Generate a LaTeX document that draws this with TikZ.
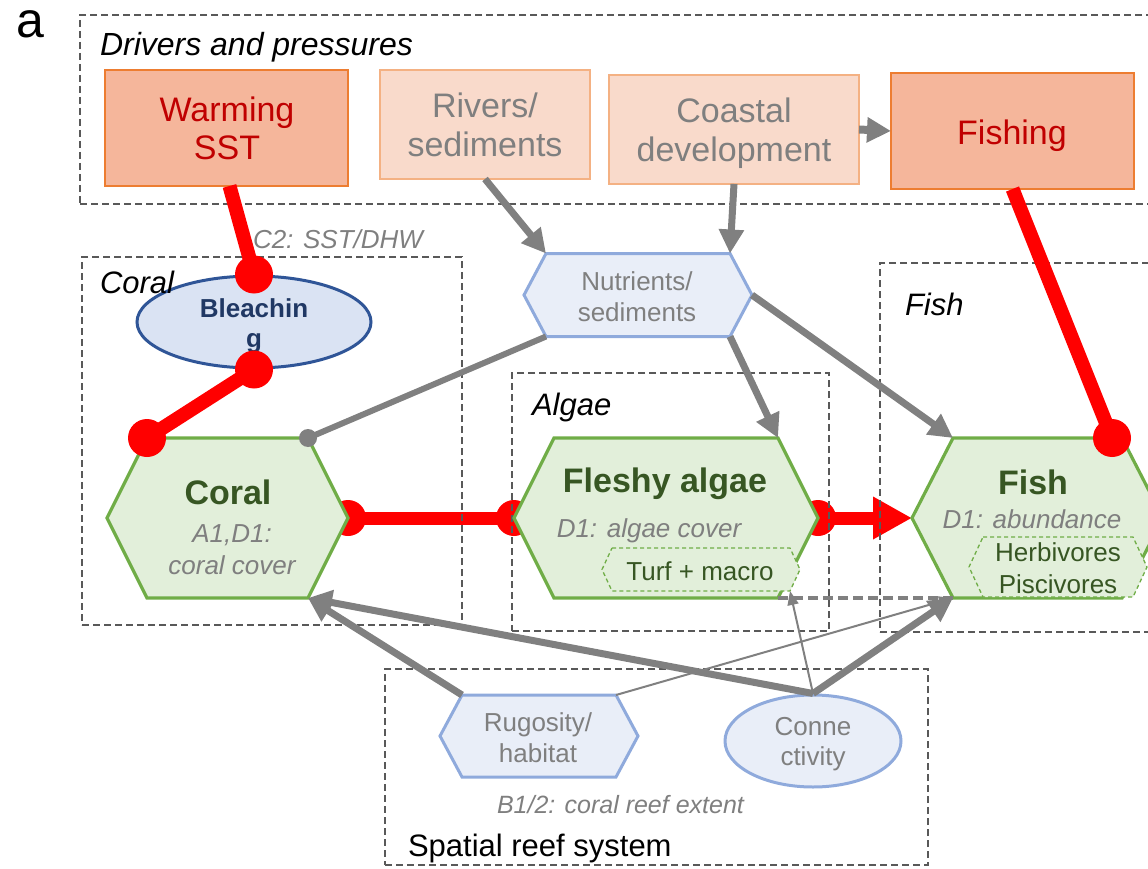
\documentclass[tikz,border=0pt]{standalone}
\usepackage{fontspec}
\setmainfont{Liberation Sans}
\usetikzlibrary{arrows.meta,shapes.geometric}
\definecolor{drvfill}{HTML}{F5B69B}
\definecolor{drvline}{HTML}{ED7D31}
\definecolor{drvtext}{HTML}{C00000}
\definecolor{lightfill}{HTML}{F9DACB}
\definecolor{lightline}{HTML}{F4B183}
\definecolor{txtgray}{HTML}{7F7F7F}
\definecolor{arrgray}{HTML}{808080}
\definecolor{boxgray}{HTML}{595959}
\definecolor{grnfill}{HTML}{E2EFDA}
\definecolor{grnline}{HTML}{70AD47}
\definecolor{grntext}{HTML}{375623}
\definecolor{bluefill}{HTML}{E9EEF8}
\definecolor{blueline}{HTML}{8FAADC}
\definecolor{blchfill}{HTML}{DAE3F3}
\definecolor{blchline}{HTML}{2F5597}
\definecolor{blchtext}{HTML}{203864}
\newcommand{\mysize}[1]{\fontsize{#1pt}{#1pt}\selectfont}
\newcommand{\hexpath}[3]{\path[#3] ([xshift=#2]#1.north west) -- ([xshift=-#2]#1.north east) -- (#1.east) -- ([xshift=-#2]#1.south east) -- ([xshift=#2]#1.south west) -- (#1.west) -- cycle;}
\begin{document}
\begin{tikzpicture}[x=1pt,y=-1pt,
  holder/.style={draw=none,inner sep=0pt,outer sep=0pt},
  txt/.style={inner sep=0pt,outer sep=0pt,anchor=base},
  region/.style={draw=boxgray,dash pattern=on 7pt off 4pt,line width=2.1pt,inner sep=0pt,outer sep=0pt},
  regionlbl/.style={inner sep=0pt,outer sep=0pt,anchor=base west,font=\itshape\mysize{31}},
  hotbox/.style={draw=drvline,fill=drvfill,line width=1.3pt,inner sep=0pt,outer sep=0pt},
  palebox/.style={draw=lightline,fill=lightfill,line width=1.3pt,inner sep=0pt,outer sep=0pt},
  greenhex/.style={draw=grnline,fill=grnfill,line width=3.2pt},
  bluehex/.style={draw=blueline,fill=bluefill,line width=3pt},
  subhex/.style={draw=grnline,fill=grnfill,line width=1.3pt,dash pattern=on 4pt off 3pt},
  hottxt/.style={txt,font=\mysize{34},text=drvtext},
  paletxt/.style={txt,font=\mysize{34},text=txtgray},
  hextitle/.style={txt,font=\bfseries\mysize{34},text=grntext},
  hexsub/.style={txt,font=\itshape\mysize{26},text=txtgray},
  subtxt/.style={txt,font=\mysize{26},text=grntext},
  bluetxt/.style={txt,font=\mysize{26},text=txtgray},
  garrow/.style={draw=arrgray,line width=7pt,-{Triangle[length=24pt,width=24pt]}},
  gline/.style={draw=arrgray,line width=6pt},
  gthin/.style={draw=arrgray,line width=2pt,-{Triangle[length=14pt,width=11pt]}},
  gdash/.style={draw=arrgray,line width=4pt,dash pattern=on 10pt off 5pt},
  redline/.style={draw=red,line width=14pt},
  redarrow/.style={draw=red,line width=13pt,-{Triangle[length=39pt,width=40pt]}}
]
\useasboundingbox (0,0) rectangle (1148,869);
\clip (0,0) rectangle (1148,869);

% invisible holders for hexagons
\node[holder,minimum width=241pt,minimum height=160pt] (coral) at (227.5,518) {};
\node[holder,minimum width=304pt,minimum height=160pt] (algae) at (666,518) {};
\node[holder,minimum width=251pt,minimum height=160pt] (fish) at (1037.5,518) {};
\node[holder,minimum width=228pt,minimum height=83pt] (nutr) at (638,295) {};
\node[holder,minimum width=198pt,minimum height=82pt] (rug) at (539,736) {};
\node[holder,minimum width=198pt,minimum height=43pt] (turf) at (701,569.5) {};
\node[holder,minimum width=178pt,minimum height=60pt] (herb) at (1058,567) {};

% red horizontal connectors (behind)
\draw[redline,line width=13pt] (coral.east) -- (algae.west);
\fill[red] (coral.east) circle[radius=18pt];
\fill[red] (algae.west) circle[radius=18pt];
\draw[redarrow] (algae.east) -- (fish.west);
\fill[red] (algae.east) circle[radius=18pt];

% regions
\node[region,minimum width=1080pt,minimum height=189pt] (drivers) at (620,109.5) {};
\node[region,minimum width=380pt,minimum height=368pt] (coralreg) at (272,441) {};
\node[region,minimum width=317pt,minimum height=258pt] (algaereg) at (670.5,502) {};
\node[region,minimum width=280pt,minimum height=369pt] (fishreg) at (1020,447.5) {};
\node[region,minimum width=543pt,minimum height=196pt] (spatreg) at (656.5,767) {};

% boxes
\node[hotbox,minimum width=243pt,minimum height=116pt] (warm) at (226.5,128) {};
\node[palebox,minimum width=210pt,minimum height=109pt] (rivers) at (485,124.5) {};
\node[palebox,minimum width=250pt,minimum height=109pt] (coastal) at (734,129.5) {};
\node[hotbox,minimum width=243pt,minimum height=116pt] (fishing) at (1012.5,131) {};

% hexagons and ellipses
\hexpath{coral}{40pt}{greenhex}
\hexpath{algae}{40pt}{greenhex}
\hexpath{fish}{41pt}{greenhex}
\hexpath{turf}{10pt}{subhex}
\hexpath{herb}{14pt}{subhex}
\hexpath{nutr}{22pt}{bluehex}
\hexpath{rug}{22pt}{bluehex}
\node[ellipse,draw=blchline,fill=blchfill,line width=3pt,minimum width=234pt,minimum height=92pt,inner sep=0pt] (bleach) at (254,322) {};
\node[ellipse,draw=blueline,fill=bluefill,line width=3pt,minimum width=176pt,minimum height=92pt,inner sep=0pt] (conn) at (813,741) {};

% labels
\node[txt,font=\mysize{50},text height=27pt] (lbla) at (30,38) {a};
\node[regionlbl,font=\itshape\mysize{32}] (ldrv) at (100,56) {Drivers and pressures};
\node[regionlbl] (lcoral) at (100,293) {Coral};
\node[regionlbl] (lalgae) at (532,415) {Algae};
\node[regionlbl] (lfish) at (905,315) {Fish};
\node[regionlbl,font=\mysize{31}] (lspat) at (408,856) {Spatial reef system};
\node[regionlbl,font=\itshape\mysize{26},text=txtgray] (lc2) at (253,248) {C2: SST/DHW};
\node[regionlbl,font=\itshape\mysize{25},text=txtgray] (lb1) at (497,813) {B1/2: coral reef extent};

% box texts
\node[hottxt] (tw1) at (227,122) {Warming};
\node[hottxt] (tw2) at (227,160) {SST};
\node[paletxt] (tr1) at (485,118) {Rivers/};
\node[paletxt] (tr2) at (485,157) {sediments};
\node[paletxt] (tc1) at (734,123) {Coastal};
\node[paletxt] (tc2) at (734,162) {development};
\node[hottxt] (tf1) at (1012,145) {Fishing};

% hexagon texts
\node[hextitle] (tco1) at (228,504) {Coral};
\node[hexsub] (tco2) at (232,542) {A1,D1:};
\node[hexsub] (tco3) at (232,574) {coral cover};
\node[hextitle] (tal1) at (665,492) {Fleshy algae};
\node[hexsub] (tal2) at (649,537) {D1: algae cover};
\node[subtxt] (ttu) at (700,580) {Turf + macro};
\node[hextitle] (tfi1) at (1033,494) {Fish};
\node[hexsub] (tfi2) at (1032,528) {D1: abundance};
\node[subtxt] (the1) at (1058,561) {Herbivores};
\node[subtxt] (the2) at (1058,593) {Piscivores};
\node[bluetxt] (tn1) at (637,290) {Nutrients/};
\node[bluetxt] (tn2) at (637,321) {sediments};
\node[bluetxt] (tru1) at (538,731) {Rugosity/};
\node[bluetxt] (tru2) at (538,762) {habitat};
\node[bluetxt] (tcn1) at (813,735) {Conne};
\node[bluetxt] (tcn2) at (813,765) {ctivity};
\node[txt,font=\bfseries\mysize{26},text=blchtext] (tb1) at (254,317) {Bleachin};
\node[txt,font=\bfseries\mysize{26},text=blchtext] (tb2) at (254,347) {g};

% gray connectors
\draw[garrow] (rivers.south) -- ([xshift=22pt]nutr.north west);
\draw[garrow] (coastal.south) -- ([xshift=-22pt]nutr.north east);
\draw[garrow,line width=8pt] (coastal.east) -- (fishing.west);
\draw[garrow] ([xshift=-22pt]nutr.south east) -- ([xshift=-40pt]algae.north east);
\draw[garrow] (nutr.east) -- ([xshift=41pt]fish.north west);
\draw[gline] ([xshift=22pt]nutr.south west) -- ([xshift=-40pt]coral.north east);
\fill[arrgray] ([xshift=-40pt]coral.north east) circle[radius=9pt];
\draw[gdash] ([xshift=-40pt]algae.south east) -- ([xshift=41pt]fish.south west);
\draw[garrow] ([xshift=22pt]rug.north west) -- ([xshift=-40pt]coral.south east);
\draw[garrow] (conn.north) -- ([xshift=-40pt]coral.south east);
\draw[gthin] ([xshift=-22pt]rug.north east) -- ([xshift=41pt]fish.south west);
\draw[gthin] (conn.north) -- ([xshift=-10pt]turf.south east);
\draw[garrow] (conn.north) -- ([xshift=41pt]fish.south west);

% red connectors (front)
\draw[redline] ([xshift=3pt]warm.south) -- (bleach.north);
\fill[red] (bleach.north) circle[radius=19pt];
\draw[redline] (bleach.south) -- ([xshift=40pt]coral.north west);
\fill[red] (bleach.south) circle[radius=19pt];
\fill[red] ([xshift=40pt]coral.north west) circle[radius=19pt];
\draw[redline] (fishing.south) -- ([xshift=-51pt]fish.north east);
\fill[red] ([xshift=-51pt]fish.north east) circle[radius=19pt];
\end{tikzpicture}
\end{document}
